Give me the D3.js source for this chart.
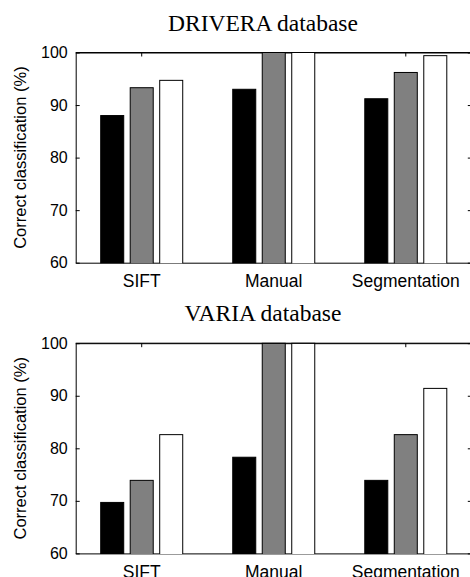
<!DOCTYPE html>
<html>
<head>
<meta charset="utf-8">
<script src="https://cdn.jsdelivr.net/npm/d3@7"></script>
<style>
    body { margin: 0; background: #fff; }
    svg { display: block; }
</style>
</head>
<body>
<div id="chart"></div>
<script>
// Categories and tick values
var categories = ["SIFT", "Manual", "Segmentation"];
var seriesNames = ["first", "second", "third"];
var yTicks = [60, 70, 80, 90, 100];

// DRIVERA database values (one array per series, in category order)
var driveraFirst = [88.0, 93.0, 91.2];
var driveraSecond = [93.3, 100, 96.2];
var driveraThird = [94.7, 100, 99.4];

// VARIA database values
var variaFirst = [69.7, 78.3, 73.9];
var variaSecond = [73.9, 100, 82.6];
var variaThird = [82.6, 100, 91.4];

var panels = [
    { title: "DRIVERA database", series: [driveraFirst, driveraSecond, driveraThird] },
    { title: "VARIA database", series: [variaFirst, variaSecond, variaThird] }
];

// Styling
var fills = ["#000000", "#808080", "#ffffff"];
var plotLeft = 75.7, plotRight = 471.8;
var panelTops = [52.5, 343.2];
var plotHeight = 210.2;
var titleY = [31, 321];
var titleX = 263;

var svg = d3.select("#chart")
    .append("svg")
    .attr("width", 470)
    .attr("height", 577);

// Shared x scales
var xScale = d3.scaleBand()
    .domain(categories)
    .range([plotLeft, plotRight])
    .paddingInner(0)
    .paddingOuter(0);

var xInner = d3.scaleBand()
    .domain(seriesNames)
    .range([-44.25, 44.25])
    .paddingInner(0.186)
    .paddingOuter(0.093);

panels.forEach(function (panel, p) {
    var top = panelTops[p];
    var bottom = top + plotHeight;

    var yScale = d3.scaleLinear().domain([60, 100]).range([bottom, top]);

    var g = svg.append("g");

    // Title
    g.append("text")
        .attr("x", titleX)
        .attr("y", titleY[p])
        .attr("text-anchor", "middle")
        .style("font-family", "'Liberation Serif', 'Times New Roman', serif")
        .style("font-size", "23.5px")
        .text(panel.title);

    // Y axis label
    g.append("text")
        .attr("transform", "translate(26," + ((top + bottom) / 2) + ") rotate(-90)")
        .attr("text-anchor", "middle")
        .style("font-family", "'Liberation Sans', Arial, sans-serif")
        .style("font-size", "16.5px")
        .text("Correct classification (%)");

    // Left axis
    var leftAxis = g.append("g")
        .attr("transform", "translate(" + plotLeft + ",0)")
        .call(d3.axisLeft(yScale)
            .tickValues(yTicks)
            .tickSizeInner(-4)
            .tickSizeOuter(0)
            .tickPadding(8));

    // Right axis (ticks only, inward)
    var rightAxis = g.append("g")
        .attr("transform", "translate(" + plotRight + ",0)")
        .call(d3.axisRight(yScale)
            .tickValues(yTicks)
            .tickSizeInner(-4)
            .tickSizeOuter(0)
            .tickFormat(""));

    // Bottom axis
    var bottomAxis = g.append("g")
        .attr("transform", "translate(0," + bottom + ")")
        .call(d3.axisBottom(xScale)
            .tickSizeInner(-4)
            .tickSizeOuter(0)
            .tickPadding(12));

    // Top axis ticks (line redrawn after bars)
    var topAxis = g.append("g")
        .attr("transform", "translate(0," + top + ")")
        .call(d3.axisTop(xScale)
            .tickSizeInner(-4)
            .tickSizeOuter(0)
            .tickFormat(""));

    [leftAxis, rightAxis, bottomAxis, topAxis].forEach(function (ax) {
        ax.selectAll("path, line").attr("stroke", "#000").attr("stroke-width", 1);
        ax.selectAll("text")
            .attr("fill", "#000")
            .style("font-family", "'Liberation Sans', Arial, sans-serif");
    });
    leftAxis.selectAll("text").style("font-size", "16px");
    bottomAxis.selectAll("text").style("font-size", "17.5px");

    // Clip for bars
    var clipId = "clip" + p;
    g.append("clipPath")
        .attr("id", clipId)
        .append("rect")
        .attr("x", plotLeft)
        .attr("y", top - 1)
        .attr("width", plotRight - plotLeft)
        .attr("height", plotHeight + 1.5);

    var barsG = g.append("g").attr("clip-path", "url(#" + clipId + ")");

    panel.series.forEach(function (values, s) {
        barsG.selectAll(".bar" + s)
            .data(values)
            .enter()
            .append("rect")
            .attr("class", "bar" + s)
            .attr("x", function (d, i) {
                return xScale(categories[i]) + xScale.bandwidth() / 2 + xInner(seriesNames[s]) + 0.5;
            })
            .attr("y", function (d) { return yScale(d); })
            .attr("width", xInner.bandwidth() - 1)
            .attr("height", function (d) { return yScale(55) - yScale(d); })
            .attr("fill", fills[s])
            .attr("stroke", "#000")
            .attr("stroke-width", 1);
    });

    // Top box line over the bars
    g.append("line")
        .attr("x1", plotLeft)
        .attr("x2", plotRight)
        .attr("y1", top)
        .attr("y2", top)
        .attr("stroke", "#000")
        .attr("stroke-width", 1);
});
</script>
</body>
</html>
